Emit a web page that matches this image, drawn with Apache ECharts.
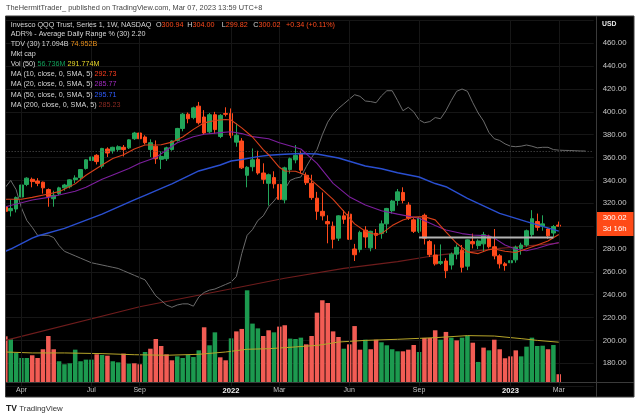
<!DOCTYPE html>
<html><head><meta charset="utf-8">
<script src="https://cdn.jsdelivr.net/npm/echarts@6/dist/echarts.min.js"></script>
<style>html,body{margin:0;padding:0;background:#fff;}#c{width:640px;height:419px;}</style>
</head><body><div id="c"></div>
<script>
// ---- categories (weekly bars starting 2021-03-15) ----
const firstWeekUTC = Date.UTC(2021, 2, 15);
const categoryCount = 110;
const categories = Array.from({length: categoryCount}, (_, i) => new Date(firstWeekUTC + i * 7 * 86400000).toISOString().slice(0, 10));
const xLabelIndex = [3, 16, 25, 42, 51, 64, 77, 94, 103];
const xLabelText = ['Apr', 'Jul', 'Sep', '2022', 'Mar', 'Jun', 'Sep', '2023', 'Mar'];
const priceTickStep = 20;

// ---- weekly OHLC ----
const opens = [317,313.5,315,325.5,336.5,341,339.5,338.5,332,324,328.5,333.5,334.5,340.7,342.5,350.5,357.5,362,352.5,367.5,366,367,369,368.5,376.5,381.5,378,367,370,358.5,359,367,375,385.5,398,395,405,395.5,382.5,397.5,378.5,398.5,398.5,373.5,374.5,344.5,352,358.5,346.5,337.5,342.5,336.5,323,349.5,358,363.5,344.5,337.5,324.5,313,304,300,289.5,309,310.5,280,279.5,296.5,281,293.7,293.5,302,313.5,322.5,329.5,318.5,305.5,295.5,309.5,286.5,274.8,267.5,269.5,266,275.5,279,265,286.5,283,284.5,291,282,274,267,268,270.5,280.5,283.5,292.5,304,300,297.5,294,300.94];
const highs = [322,323,326,337,342.8,342.5,342,339,333,331,334.5,337,341,344.5,350,358.5,362,363,368.5,369,369.5,370.7,371,376,382.5,382.6,379.5,376,375,365.5,369.5,375,386,399,399.5,404.5,408.7,401.5,399,400,398,404,403,390,377,352.5,368,366,355,346,348,339,352,360,371,366,347,345,330,329.5,309.5,304,309.5,314,313,284.5,296,300,296,297.5,305,316,323,332.5,334,321,307,308,311,288,284,284,272,277,284,283.5,288.5,293.5,288.5,295,292.5,297.5,275.5,268.5,271,283,285.5,297,314,311,309.5,298,301,304];
const lows = [310,308.5,312,325,335,334,335,328.5,317,317,327,331,333,337.5,339.5,349.5,354,354,350.5,360.5,363.5,365,361,367.5,375.5,375.5,371.5,360.5,354.5,350,357,366,374,383,390,393.5,389,380,381,381,377,396,377,369.5,350,334,348,345,337,318,333,320,320,346,355,346,336,323,305.5,305,285,280.5,287,302,288,269.5,277,281,278,280,289,294,311,318,320,305.5,294,294,284,273,265.5,266,254.5,262,271,259.5,261.5,280.5,280,278,280.5,271,263,261,260.5,268,275,282,290.5,296,296,289,290.5,299.82];
const closes = [313,315.5,325,336,342,339,337.5,333.5,326,327,333.5,336,340.5,342.2,349.5,358,360.5,356.5,368,364,369,369.5,367,375.5,381.5,376.5,373,373,359,361,368.5,374.5,385.5,398,394,403.5,390.5,381.5,397.5,384.5,397,397.9,379.5,379.5,351,351.5,358,346.5,341,345,337,323.5,351,359,362,349,338,325,313,309,302,288.5,309,306,288.5,275,294.5,290.5,295.5,292,302,315.5,322,330,322.5,307,295.5,307,289.5,275,267,269,261,275.5,281.5,264,288,284.5,287,292.5,282,274,267,265.5,269.8,281.5,283.5,296,306.5,299,302,291.5,299.7,300.02];

// ---- weekly volume (millions) and its colour direction (u = up, d = down) ----
const volumes = [335,313,213,176,176,196,176,240,337,240,152,130,137,237,152,164,164,203,198,193,152,144,208,134,137,130,220,244,315,264,203,159,188,176,198,183,232,401,269,364,181,159,320,371,389,672,428,393,337,379,364,406,416,318,315,325,276,337,508,599,579,371,330,244,276,410,237,310,240,310,291,269,240,225,225,237,271,220,323,323,379,310,367,325,305,325,340,288,147,252,232,310,240,174,188,232,188,259,325,264,266,240,271,57];
const volumeDir = 'duuuuddddduuuuuuududuududduddddduuuuuduuddudduuuddudduuudddddddudddudduuuudddudddududuudududdddduuuuududuu'.split('');

// ---- indicator lines: [bar index, value] ----
const ma10 = [[0,323.5],[3,323.5],[5,325.2],[8,328.1],[10,330.2],[13,337],[15,344.5],[18,353.5],[20,359.2],[22,362.4],[24,367.6],[26,371],[29,371.2],[31,373.5],[33,378],[35,384.7],[37,390.4],[39,392.5],[41,393.3],[42,392.9],[44,386],[46,378],[48,367],[49,362.5],[51,351.5],[52,348.3],[54,348],[56,344.5],[57,340],[59,332],[61,323.5],[63,313],[65,302],[67,295.5],[69,292.5],[70,293.5],[72,300.5],[74,305.4],[76,308],[78,308.3],[80,305.5],[82,295],[84,285],[86,277.5],[88,276],[90,279.5],[91,280],[93,278],[95,277],[97,280.3],[99,283.5],[101,287],[103,292.73]];
const ma20 = [[0,317],[3,320.5],[5,322.9],[8,325.2],[10,327.3],[13,330.5],[15,334],[18,341],[20,344.8],[23,350.5],[25,355],[28,360],[30,366.6],[32,373],[35,378.3],[37,380.4],[40,381.8],[42,382.6],[44,381],[46,378.3],[49,376.5],[51,373],[55,367.5],[58,355],[61,337.5],[64,325.8],[67,318.5],[70,313.5],[73,310.5],[77,306.9],[80,300.5],[82,296.6],[85,293.5],[87,292.3],[90,291.5],[91,289.5],[93,283.5],[95,279.8],[97,278.5],[99,280.6],[101,283.5],[103,285.77]];
const ma50 = [[0,278],[1,280],[5,289.5],[6,291.4],[11,298.1],[18,310.5],[24,323],[26,327],[30,335],[31,337],[36,348.3],[40,353.5],[42,357],[44,358.3],[47,360.8],[49,362],[52,362.9],[55,363.6],[58,363.1],[62,359.6],[67,352.6],[70,350.2],[73,346.7],[77,343],[80,337.3],[82,334.5],[86,324.4],[92,311.2],[97,304],[103,295.71]];
const ma200 = [[0,200],[25,229.5],[44,247],[52,254.4],[63,263.1],[73,268.9],[78,272.8],[81,274.8],[92,280.5],[103,285.23]];
const tdvLine = [334,340,332,316,305,299,292,292,292,290,283,278,276,274,272,270,268,267,266,265,264,263,261,259,257,255,253,246,239,235,231,229,231,232,232,230,238,242,244,245,247,249,251,256,276,292,297,305,309,317,322,328,332,340,342,343,352,360,367,380,391,398,403,407,411,415,413.6,409.5,409,408,414,418.5,418.5,410,401,404,400,393,390.5,391.5,395,394,401,410,418,420,418,408,399,392,382,376.5,375,372,370,369.5,370,371,370,368.5,369,369,367,366.5,366.3,366.2,366,365.8,365.7];
const volMa = [[0,220],[5,213],[11,213],[18,208],[24,200],[30,196],[36,203],[41,220],[45,240],[49,244],[54,257],[56,263],[58,268],[60,280],[62,293],[67,305],[73,313],[80,325],[86,340],[91,337],[96,318],[99,305],[103,291.774]];
const drawnLevel = [[77,290],[102,290]];

// ---- styling ----
const FONT = '"Liberation Sans", Arial, sans-serif';
const upColor = '#22a55a', downColor = '#ff4a1c';
const volUp = '#1c9a4f', volDown = '#f25c54';
const txt = '#d6d6d6';

const chart = echarts.init(document.getElementById('c'), null, {renderer: 'canvas', width: 640, height: 419});

const gridLeft = 2.66, gridWidth = 591.03;
const candleData = opens.map((o, i) => [o, closes[i], lows[i], highs[i]]);
const volData = volumes.map((v, i) => ({value: v, itemStyle: {color: volumeDir[i] === 'u' ? volUp : volDown}}));

const richStyles = {w: {fill: txt}, r: {fill: '#ff4a1c'}, o: {fill: '#e8901c'}, g: {fill: '#12a05a'}, y: {fill: '#e8d82a'},
  m10: {fill: '#ff3d1f'}, m20: {fill: '#a22bc0'}, m50: {fill: '#2f5cff'}, m200: {fill: '#8a2a22'}};
Object.values(richStyles).forEach(s => { s.fontSize = 7.2; s.fontFamily = FONT; });

function legendRow(x, y, parts, sep) {
  return {type: 'text', x: x, y: y, z: 110, silent: true,
    style: {text: parts.map(p => '{' + p[1] + '|' + p[0] + '}').join(sep === undefined ? ' ' : sep), verticalAlign: 'middle',
      fontSize: 7.2, fontFamily: FONT, fill: txt, rich: richStyles}};
}
function plainText(x, y, s, fill, size, weight) {
  return {type: 'text', x: x, y: y, z: 110, silent: true,
    style: {text: s, fill: fill, fontSize: size, fontFamily: FONT, fontWeight: weight || 'normal', verticalAlign: 'middle'}};
}

const option = {
  animation: false,
  backgroundColor: '#000000',
  grid: [
    {left: gridLeft, width: gridWidth, top: 20.44, height: 365.72},
    {left: gridLeft, width: gridWidth, top: 200, height: 182}
  ],
  xAxis: [
    {type: 'category', gridIndex: 0, data: categories, boundaryGap: true, show: false},
    {type: 'category', gridIndex: 1, data: categories, boundaryGap: true,
      axisLine: {show: false}, axisTick: {show: false}, splitLine: {show: false},
      axisLabel: {margin: 4.5, fontSize: 7, fontFamily: FONT, color: '#c4c4c4',
        interval: (idx) => xLabelIndex.indexOf(idx) >= 0,
        formatter: (val, idx) => {
          const k = xLabelIndex.indexOf(idx);
          if (k < 0) return '';
          const t = xLabelText[k];
          return /^\d{4}$/.test(t) ? '{b|' + t + '}' : t;
        },
        rich: {b: {fontWeight: 'bold', color: '#f0f0f0', fontSize: 7.6, fontFamily: FONT}}}}
  ],
  yAxis: [
    {type: 'value', gridIndex: 0, position: 'right', min: 160, max: 480, interval: priceTickStep,
      axisLine: {show: false}, axisTick: {show: false},
      splitLine: {show: true, lineStyle: {color: '#161616', width: 1}},
      axisLabel: {margin: 9, fontSize: 7.8, fontFamily: FONT, color: '#c8c8c8', showMinLabel: false, showMaxLabel: false,
        formatter: v => v.toFixed(2)}},
    {type: 'value', gridIndex: 1, min: 0, max: 1334, show: false}
  ],
  series: [
    {type: 'line', xAxisIndex: 0, yAxisIndex: 0, data: [], silent: true, z: 1,
      markLine: {silent: true, symbol: ['none', 'none'], label: {show: false},
        lineStyle: {color: '#161616', width: 1, type: 'solid'},
        data: xLabelIndex.map(i => ({xAxis: i}))}},
    {type: 'bar', xAxisIndex: 1, yAxisIndex: 1, data: volData, barWidth: '84%', silent: true, z: 2},
    {type: 'line', xAxisIndex: 1, yAxisIndex: 1, data: volMa, showSymbol: false, symbol: 'none', silent: true, z: 3,
      lineStyle: {color: '#b7a62a', width: 1}},
    {type: 'line', data: ma200, showSymbol: false, symbol: 'none', silent: true, z: 3, lineStyle: {color: '#6e1c1c', width: 1.2}},
    {type: 'line', data: tdvLine, showSymbol: false, symbol: 'none', silent: true, z: 3, lineStyle: {color: '#6c6c6c', width: 1},
      markLine: {silent: true, symbol: ['none', 'none'], label: {show: false},
        lineStyle: {color: '#555', width: 1, type: [1, 2]}, data: [{yAxis: tdvLine[tdvLine.length - 1]}]}},
    {type: 'candlestick', data: candleData, barWidth: '78%', clip: true, silent: true, z: 4,
      itemStyle: {color: upColor, color0: downColor, borderColor: upColor, borderColor0: downColor, borderWidth: 1}},
    {type: 'line', data: ma50, showSymbol: false, symbol: 'none', silent: true, z: 5, lineStyle: {color: '#2a4fd0', width: 1.4}},
    {type: 'line', data: ma20, showSymbol: false, symbol: 'none', silent: true, z: 5, lineStyle: {color: '#7d1f9e', width: 1.1}},
    {type: 'line', data: ma10, showSymbol: false, symbol: 'none', silent: true, z: 5, lineStyle: {color: '#d8401a', width: 1.1}},
    {type: 'line', data: drawnLevel, showSymbol: false, symbol: 'none', silent: true, z: 6, lineStyle: {color: '#b4b4b4', width: 2}}
  ],
  graphic: [
    // white page margins around the black chart panel
    {type: 'rect', z: 100, silent: true, shape: {x: 0, y: 0, width: 640, height: 16}, style: {fill: '#fff'}},
    {type: 'rect', z: 100, silent: true, shape: {x: 0, y: 397, width: 640, height: 22}, style: {fill: '#fff'}},
    {type: 'rect', z: 100, silent: true, shape: {x: 0, y: 0, width: 5.5, height: 419}, style: {fill: '#fff'}},
    {type: 'rect', z: 100, silent: true, shape: {x: 634, y: 0, width: 6, height: 419}, style: {fill: '#fff'}},
    {type: 'rect', z: 101, silent: true, shape: {x: 5.5, y: 16, width: 628.5, height: 381}, style: {fill: 'none', stroke: '#3a3a3a', lineWidth: 1}},
    {type: 'line', z: 101, silent: true, shape: {x1: 596.5, y1: 16, x2: 596.5, y2: 397}, style: {stroke: '#3a3a3a', lineWidth: 1}},
    {type: 'line', z: 101, silent: true, shape: {x1: 5.5, y1: 382.5, x2: 634, y2: 382.5}, style: {stroke: '#3a3a3a', lineWidth: 1}},
    // header & footer
    plainText(6, 8, 'TheHermitTrader_ published on TradingView.com, Mar 07, 2023 13:59 UTC+8', '#444', 7.4),
    plainText(6, 409, 'TV', '#222', 8.5, 'bold'),
    plainText(19.3, 409, 'TradingView', '#333', 7.9),
    // price axis extras
    plainText(602, 24, 'USD', '#e8e8e8', 6.8, 'bold'),
    {type: 'rect', z: 105, silent: true, shape: {x: 597, y: 212, width: 36.5, height: 24}, style: {fill: '#ff4a17'}},
    plainText(602.7, 218.2, '300.02', '#ffffff', 7.8),
    plainText(602.7, 228.8, '3d 16h', '#ffffff', 7.8),
    // legend
    plainText(10.7, 25, 'Invesco QQQ Trust, Series 1, 1W, NASDAQ', txt, 7.2),
    legendRow(156, 25, [['O', 'w'], ['300.94', 'r']], ''),
    legendRow(187.3, 25, [['H', 'w'], ['304.00', 'r']], ''),
    legendRow(221.7, 25, [['L', 'w'], ['299.82', 'r']], ''),
    legendRow(253.3, 25, [['C', 'w'], ['300.02', 'r']], ''),
    plainText(286, 25, '+0.34 (+0.11%)', '#ff4a1c', 7.2),
    legendRow(10.7, 34.5, [['ADR% - Average Daily Range % (30)', 'w'], ['2.20', 'w']]),
    legendRow(10.7, 44, [['TDV (30)', 'w'], ['17.094B', 'w'], ['74.952B', 'o']]),
    legendRow(10.7, 53.8, [['Mkt cap', 'w']]),
    legendRow(10.7, 63.8, [['Vol (50)', 'w'], ['56.736M', 'g'], ['291.774M', 'y']]),
    legendRow(10.7, 74, [['MA (10, close, 0, SMA, 5)', 'w'], ['292.73', 'm10']]),
    legendRow(10.7, 84.4, [['MA (20, close, 0, SMA, 5)', 'w'], ['285.77', 'm20']]),
    legendRow(10.7, 94.8, [['MA (50, close, 0, SMA, 5)', 'w'], ['295.71', 'm50']]),
    legendRow(10.7, 105.2, [['MA (200, close, 0, SMA, 5)', 'w'], ['285.23', 'm200']])
  ]
};
chart.setOption(option);
</script></body></html>
